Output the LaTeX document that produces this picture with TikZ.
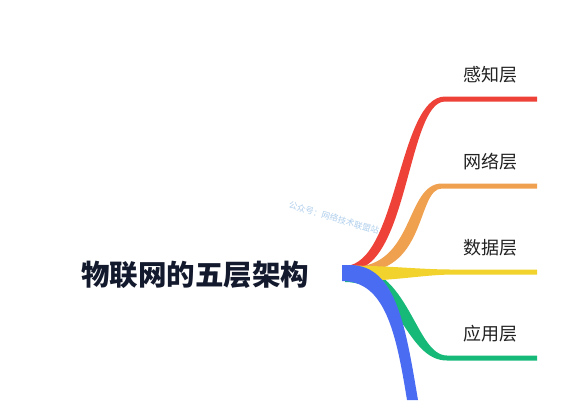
\documentclass[tikz,border=0pt]{standalone}
\usepackage{fontspec}
\newfontfamily\cjk{Noto Sans CJK SC}
\definecolor{cred}{HTML}{EE4238}
\definecolor{corange}{HTML}{F0A150}
\definecolor{cyellow}{HTML}{F2D22C}
\definecolor{cgreen}{HTML}{17B978}
\definecolor{cblue}{HTML}{4A6CF3}
\definecolor{ctitle}{HTML}{141A2E}
\definecolor{clabel}{HTML}{222222}
\definecolor{cwm}{HTML}{9CC3E8}
\tikzset{
  lbl/.style={font=\cjk\fontsize{18}{20}\selectfont, text=clabel, inner sep=0pt},
  ttl/.style={font=\cjk\bfseries\fontsize{28.5}{32}\selectfont, text=ctitle, inner sep=0pt},
  wm/.style={font=\cjk\fontsize{8.5}{10}\selectfont, text=cwm, inner sep=0pt, opacity=0.8}
}
\begin{document}
\begin{tikzpicture}[x=1pt,y=-1pt]
\useasboundingbox (0,0) rectangle (588,400);
\fill[white] (0,0) rectangle (588,400);
% watermark
\node[wm, rotate=-16.5] (wm) at (334,218) {公众号：网络技术联盟站};
% title
\node[ttl] (title) at (195,275) {物联网的五层架构};
% green
\fill[cgreen] (348,265) .. controls (410,266) and (415,355.5) .. (447,355.5) -- (537,355.5) -- (537,360.5) -- (447,360.5) .. controls (405,360.5) and (400,282) .. (345,282) -- cycle;
% red
\fill[cred] (345,266) .. controls (398,264) and (398,96.5) .. (445,96.5) -- (537,96.5) -- (537,101.5) -- (445,101.5) .. controls (408,101.5) and (408,268) .. (352,270) -- cycle;
% orange
\fill[corange] (352,267) .. controls (415,267) and (405,183.5) .. (442,183.5) -- (537,183.5) -- (537,188.5) -- (442,188.5) .. controls (417,188.5) and (427,270) .. (362,272) -- cycle;
% yellow
\fill[cyellow] (348,265.5) .. controls (395,266) and (420,269.5) .. (452,269.5) -- (537,269.5) -- (537,274.5) -- (452,274.5) .. controls (420,275) and (395,281) .. (350,281) -- cycle;
% blue
\fill[cblue] (342,265) -- (350,265) .. controls (397,265) and (406,330) .. (418,400) -- (407,400) .. controls (396,332) and (385,281) .. (342,281) -- cycle;
% labels
\node[lbl] (l1) at (490,75) {感知层};
\node[lbl] (l2) at (490,162) {网络层};
\node[lbl] (l3) at (490,248) {数据层};
\node[lbl] (l4) at (490,334) {应用层};
\end{tikzpicture}
\end{document}
